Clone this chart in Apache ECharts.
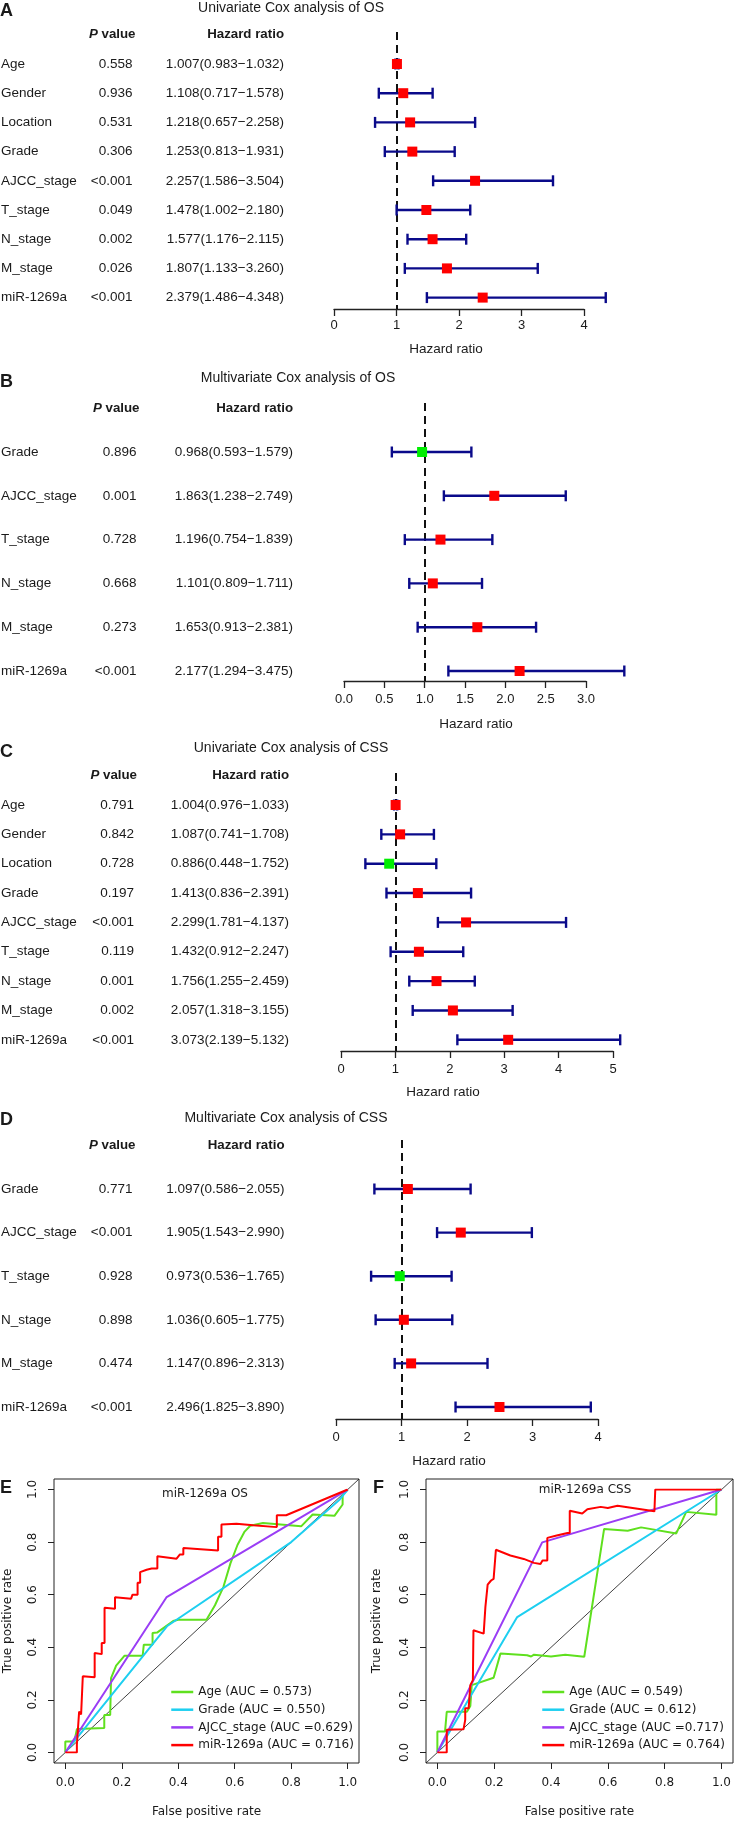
<!DOCTYPE html>
<html><head><meta charset="utf-8">
<script src="https://cdn.jsdelivr.net/npm/echarts@6/dist/echarts.min.js"></script>
<style>html,body{margin:0;padding:0;background:#fff}#c{width:734px;height:1822px}</style>
</head><body><div id="c"></div>
<script>
// ---------------- DATA ----------------
const labelsUni = ['Age','Gender','Location','Grade','AJCC_stage','T_stage','N_stage','M_stage','miR-1269a'];
const labelsMulti = ['Grade','AJCC_stage','T_stage','N_stage','M_stage','miR-1269a'];

const pA = ['0.558','0.936','0.531','0.306','<0.001','0.049','0.002','0.026','<0.001'];
const hrA = [1.007,1.108,1.218,1.253,2.257,1.478,1.577,1.807,2.379];
const loA = [0.983,0.717,0.657,0.813,1.586,1.002,1.176,1.133,1.486];
const hiA = [1.032,1.578,2.258,1.931,3.504,2.180,2.115,3.260,4.348];

const pB = ['0.896','0.001','0.728','0.668','0.273','<0.001'];
const hrB = [0.968,1.863,1.196,1.101,1.653,2.177];
const loB = [0.593,1.238,0.754,0.809,0.913,1.294];
const hiB = [1.579,2.749,1.839,1.711,2.381,3.475];

const pC = ['0.791','0.842','0.728','0.197','<0.001','0.119','0.001','0.002','<0.001'];
const hrC = [1.004,1.087,0.886,1.413,2.299,1.432,1.756,2.057,3.073];
const loC = [0.976,0.741,0.448,0.836,1.781,0.912,1.255,1.318,2.139];
const hiC = [1.033,1.708,1.752,2.391,4.137,2.247,2.459,3.155,5.132];

const pD = ['0.771','<0.001','0.928','0.898','0.474','<0.001'];
const hrD = [1.097,1.905,0.973,1.036,1.147,2.496];
const loD = [0.586,1.543,0.536,0.605,0.896,1.825];
const hiD = [2.055,2.990,1.765,1.775,2.313,3.890];

// ROC curves [FPR, TPR]
const rocOS_Age = [[0,0],[0,0.042],[0.032,0.042],[0.041,0.089],[0.138,0.093],[0.138,0.143],[0.159,0.143],[0.162,0.283],[0.18,0.33],[0.21,0.368],[0.274,0.368],[0.278,0.41],[0.309,0.41],[0.309,0.454],[0.325,0.456],[0.382,0.5],[0.4,0.505],[0.5,0.505],[0.53,0.56],[0.56,0.63],[0.585,0.72],[0.61,0.79],[0.635,0.84],[0.655,0.862],[0.7,0.873],[0.835,0.86],[0.876,0.905],[0.953,0.9],[0.982,0.943],[0.982,0.98],[1,1]];
const rocOS_Grade = [[0,0],[0.36,0.48],[0.8,0.8],[0.97,0.96],[1,1]];
const rocOS_AJCC = [[0,0],[0.359,0.591],[1,1]];
const rocOS_miR = [[0,0],[0.041,0],[0.041,0.03],[0.049,0.156],[0.056,0.145],[0.062,0.29],[0.104,0.286],[0.104,0.378],[0.129,0.374],[0.129,0.416],[0.139,0.416],[0.139,0.55],[0.176,0.547],[0.176,0.59],[0.233,0.585],[0.238,0.6],[0.256,0.6],[0.256,0.645],[0.265,0.645],[0.265,0.686],[0.288,0.695],[0.306,0.70],[0.326,0.70],[0.326,0.746],[0.394,0.737],[0.406,0.753],[0.418,0.753],[0.418,0.778],[0.541,0.768],[0.541,0.82],[0.553,0.82],[0.553,0.867],[0.606,0.87],[0.665,0.864],[0.749,0.857],[0.749,0.902],[0.782,0.902],[1,1]];

const rocCSS_Age = [[0,0],[0,0.08],[0.027,0.08],[0.033,0.155],[0.104,0.155],[0.116,0.177],[0.121,0.256],[0.198,0.284],[0.222,0.376],[0.316,0.37],[0.33,0.365],[0.34,0.372],[0.4,0.365],[0.45,0.372],[0.517,0.364],[0.587,0.85],[0.67,0.843],[0.717,0.856],[0.841,0.833],[0.876,0.915],[0.982,0.904],[0.982,1.0],[1,1]];
const rocCSS_Grade = [[0,0],[0.281,0.515],[1,1]];
const rocCSS_AJCC = [[0,0],[0.369,0.799],[1,1]];
const rocCSS_miR = [[0,0],[0.033,0],[0.033,0.086],[0.092,0.088],[0.098,0.124],[0.098,0.168],[0.11,0.168],[0.116,0.256],[0.125,0.275],[0.127,0.465],[0.163,0.452],[0.169,0.553],[0.175,0.553],[0.177,0.638],[0.189,0.654],[0.198,0.66],[0.206,0.771],[0.257,0.749],[0.304,0.736],[0.34,0.721],[0.363,0.717],[0.37,0.73],[0.387,0.73],[0.387,0.816],[0.42,0.825],[0.458,0.835],[0.466,0.835],[0.466,0.919],[0.51,0.909],[0.528,0.925],[0.575,0.934],[0.6,0.93],[0.634,0.938],[0.764,0.917],[0.767,1.0],[1,1]];

const legendOS = ['Age (AUC = 0.573)','Grade (AUC = 0.550)','AJCC_stage (AUC =0.629)','miR-1269a (AUC = 0.716)'];
const legendCSS = ['Age (AUC = 0.549)','Grade (AUC = 0.612)','AJCC_stage (AUC =0.717)','miR-1269a (AUC = 0.764)'];

// ---------------- STYLE / LAYOUT ----------------
const FONT = '"Liberation Sans", Arial, sans-serif';
const RFONT = '"DejaVu Sans", Verdana, sans-serif';
const TXT = '#1a1a1a';
const EB = '#0a0a8a';
const RED = '#ff0000', GREEN = '#00ee00';
const rocColors = ['#5fe01e','#1ecff0','#9a3df5','#ff0000'];
const FS = 13.5;

const panels = [
 {title:'Univariate Cox analysis of OS', letter:'A', labels:labelsUni, p:pA, hr:hrA, lo:loA, hi:hiA, xmax:4, interval:1, dec:0,
  L:{top:32, axisY:309, row0:64, step:29.2, x0:334, x1:584, lm:9.5, nameX:446, nameY:349, pR:132.5, hrR:284, tX:291, tY:8, lY:11}},
 {title:'Multivariate Cox analysis of OS', letter:'B', labels:labelsMulti, p:pB, hr:hrB, lo:loB, hi:hiB, xmax:3, interval:0.5, dec:1,
  L:{top:403, axisY:681, row0:452, step:43.8, x0:344, x1:586, lm:11.5, nameX:476, nameY:724, pR:136.5, hrR:293, tX:298, tY:378, lY:382}},
 {title:'Univariate Cox analysis of CSS', letter:'C', labels:labelsUni, p:pC, hr:hrC, lo:loC, hi:hiC, xmax:5, interval:1, dec:0,
  L:{top:773, axisY:1051, row0:805, step:29.35, x0:341, x1:613, lm:11.5, nameX:443, nameY:1092, pR:134, hrR:289, tX:291, tY:748, lY:752}},
 {title:'Multivariate Cox analysis of CSS', letter:'D', labels:labelsMulti, p:pD, hr:hrD, lo:loD, hi:hiD, xmax:4, interval:1, dec:0,
  L:{top:1140, axisY:1419, row0:1189, step:43.6, x0:336, x1:598, lm:11.5, nameX:449, nameY:1461, pR:132.5, hrR:284.5, tX:286, tY:1118, lY:1120}}
];

const grids = [], xAxes = [], yAxes = [], series = [], graphics = [];
const ctext = (x, y, text, font, align) => ({type:'text', x, y, silent:true,
  style:{text, font, fill:TXT, align:align||'center', textAlign:align||'center', verticalAlign:'middle', textVerticalAlign:'middle'}});

panels.forEach((P, k) => {
  const L = P.L;
  grids.push({left:L.x0, top:L.top, width:L.x1-L.x0, height:L.axisY-L.top});
  const ymin = -(L.row0-L.top)/L.step;
  const ymax = ymin + (L.axisY-L.top)/L.step;
  xAxes.push({gridIndex:k, type:'value', min:0, max:P.xmax, interval:P.interval,
    splitLine:{show:false},
    axisLine:{show:true, onZero:false, lineStyle:{color:'#222', width:1.3}},
    axisTick:{show:true, inside:false, length:7, lineStyle:{color:'#222', width:1.3}},
    axisLabel:{margin:L.lm, fontSize:13, fontFamily:FONT, color:TXT, formatter:v=>v.toFixed(P.dec), showMaxLabel:true, showMinLabel:true}});
  yAxes.push({gridIndex:k, type:'value', inverse:true, min:ymin, max:ymax, show:false, axisLine:{onZero:false}});

  series.push({type:'custom', xAxisIndex:k, yAxisIndex:k, clip:false, silent:true, z:3,
    data:P.hr.map((v,i)=>[P.lo[i], P.hi[i], i]),
    encode:{x:[0,1], y:2},
    renderItem:(params, api)=>{
      const a = api.coord([api.value(0), api.value(2)]);
      const b = api.coord([api.value(1), api.value(2)]);
      const y = a[1], h = 5.5;
      const st = {stroke:EB, lineWidth:2.4};
      return {type:'group', children:[
        {type:'line', shape:{x1:a[0],y1:y,x2:b[0],y2:y}, style:st},
        {type:'line', shape:{x1:a[0],y1:y-h,x2:a[0],y2:y+h}, style:st},
        {type:'line', shape:{x1:b[0],y1:y-h,x2:b[0],y2:y+h}, style:st}]};
    },
    markLine:{silent:true, symbol:'none', label:{show:false}, z:2,
      lineStyle:{type:[8,5], color:'#111', width:2}, data:[{xAxis:1}]}
  });
  series.push({type:'scatter', xAxisIndex:k, yAxisIndex:k, symbol:'rect', symbolSize:10, z:5, silent:true,
    data:P.hr.map((v,i)=>[v,i]),
    itemStyle:{color:p=>p.value[0]<1?GREEN:RED, opacity:1}});
  series.push({type:'custom', xAxisIndex:k, yAxisIndex:k, clip:false, silent:true, z:4,
    data:P.labels.map((l,i)=>[0,i]), encode:{x:0, y:1},
    renderItem:(params, api)=>{
      const i = params.dataIndex;
      const y = api.coord([0, api.value(1)])[1];
      const base = {font:FS+'px '+FONT, fill:TXT, verticalAlign:'middle', textVerticalAlign:'middle'};
      const f = P.hr[i].toFixed(3)+'('+P.lo[i].toFixed(3)+'\u2212'+P.hi[i].toFixed(3)+')';
      return {type:'group', children:[
        {type:'text', style:Object.assign({}, base, {x:1, y:y, text:P.labels[i], align:'left', textAlign:'left'})},
        {type:'text', style:Object.assign({}, base, {x:L.pR, y:y, text:P.p[i], align:'right', textAlign:'right'})},
        {type:'text', style:Object.assign({}, base, {x:L.hrR, y:y, text:f, align:'right', textAlign:'right'})}
      ]};
    }});
  const hy = L.row0 - L.step;
  graphics.push(ctext(L.tX, L.tY, P.title, '14px '+FONT));
  graphics.push(ctext(L.nameX, L.nameY, 'Hazard ratio', FS+'px '+FONT));
  graphics.push(ctext(0, L.lY, P.letter, 'bold 18px '+FONT, 'left'));
  graphics.push({type:'text', x:L.pR+3, y:hy, silent:true, style:{text:'{pi|P} value', font:'bold 13.3px '+FONT, fill:TXT, align:'right', textAlign:'right', verticalAlign:'middle', textVerticalAlign:'middle',
    rich:{pi:{fontStyle:'italic', fontWeight:'bold', fontSize:13.3, fontFamily:FONT, fill:TXT, color:TXT}}}});
  graphics.push(ctext(L.hrR, hy, 'Hazard ratio', 'bold 13.3px '+FONT, 'right'));
});

// ROC panels: an outer box grid (range -0.04..1.04) and an inner data grid (0..1)
const ROC_MIN = -0.04, ROC_MAX = 1.04;
const rocPanels = [
 {letter:'E', title:'miR-1269a OS', curves:[rocOS_Age, rocOS_Grade, rocOS_AJCC, rocOS_miR], names:legendOS,
  L:{left:54, top:1479, width:305, height:284, tX:205, tY:1494, lX:0, lgX:170, yNameGap:40}},
 {letter:'F', title:'miR-1269a CSS', curves:[rocCSS_Age, rocCSS_Grade, rocCSS_AJCC, rocCSS_miR], names:legendCSS,
  L:{left:426, top:1479, width:307, height:284, tX:585, tY:1490, lX:373, lgX:541, yNameGap:43}}
];
const legends = [];
rocPanels.forEach((R, j) => {
  const L = R.L;
  const span = ROC_MAX - ROC_MIN;
  const padX = (0 - ROC_MIN) / span * L.width, padXr = (ROC_MAX - 1) / span * L.width;
  const padY = (0 - ROC_MIN) / span * L.height, padYt = (ROC_MAX - 1) / span * L.height;
  const kb = grids.length;   // box grid
  grids.push({left:L.left, top:L.top, width:L.width, height:L.height, show:true, borderColor:'#222', borderWidth:1, backgroundColor:'transparent'});
  xAxes.push({gridIndex:kb, type:'value', min:ROC_MIN, max:ROC_MAX, show:false, axisLine:{onZero:false}});
  yAxes.push({gridIndex:kb, type:'value', min:ROC_MIN, max:ROC_MAX, show:false, axisLine:{onZero:false}});
  series.push({type:'line', xAxisIndex:kb, yAxisIndex:kb, symbol:'none', silent:true, z:1,
    data:[[ROC_MIN,ROC_MIN],[ROC_MAX,ROC_MAX]], lineStyle:{color:'#111', width:0.8}});
  const kd = grids.length;   // data grid
  grids.push({left:L.left+padX, top:L.top+padYt, width:L.width-padX-padXr, height:L.height-padY-padYt});
  const common = {gridIndex:kd, type:'value', min:0, max:1, interval:0.2, splitLine:{show:false},
    axisLine:{show:false, onZero:false},
    axisTick:{show:true, inside:false, length:6, lineStyle:{color:'#222', width:1}},
    nameLocation:'middle', nameTextStyle:{fontSize:12, fontFamily:RFONT, color:TXT}};
  xAxes.push(Object.assign({}, common, {position:'bottom', offset:padY,
    axisLabel:{margin:14, fontSize:12, fontFamily:RFONT, color:TXT, formatter:v=>v.toFixed(1), showMaxLabel:true, showMinLabel:true},
    name:'False positive rate', nameGap:43}));
  yAxes.push(Object.assign({}, common, {position:'left', offset:padX,
    axisLabel:{margin:15, rotate:90, fontSize:12, fontFamily:RFONT, color:TXT, formatter:v=>v.toFixed(1), showMaxLabel:true, showMinLabel:true},
    name:'True positive rate', nameRotate:90, nameGap:L.yNameGap}));
  R.curves.forEach((c, i) => {
    series.push({type:'line', name:R.names[i], xAxisIndex:kd, yAxisIndex:kd, symbol:'none', silent:true, z:2+i,
      data:c, color:rocColors[i], lineStyle:{color:rocColors[i], width:2}});
  });
  legends.push({data:R.names, orient:'vertical', left:L.lgX, top:1686, itemWidth:22, itemHeight:14, itemGap:5.7,
    selectedMode:false, itemStyle:{opacity:0}, lineStyle:{width:2.5},
    textStyle:{fontSize:12, fontFamily:RFONT, color:TXT}, padding:0});
  graphics.push(ctext(L.tX, L.tY, R.title, '12px '+RFONT));
  graphics.push(ctext(L.lX, 1488, R.letter, 'bold 18px '+FONT, 'left'));
});

const chart = echarts.init(document.getElementById('c'), null, {renderer:'canvas'});
chart.setOption({
  animation:false,
  backgroundColor:'#ffffff',
  textStyle:{fontFamily:FONT},
  grid:grids, xAxis:xAxes, yAxis:yAxes, series:series, legend:legends,
  graphic:graphics
});
</script></body></html>
